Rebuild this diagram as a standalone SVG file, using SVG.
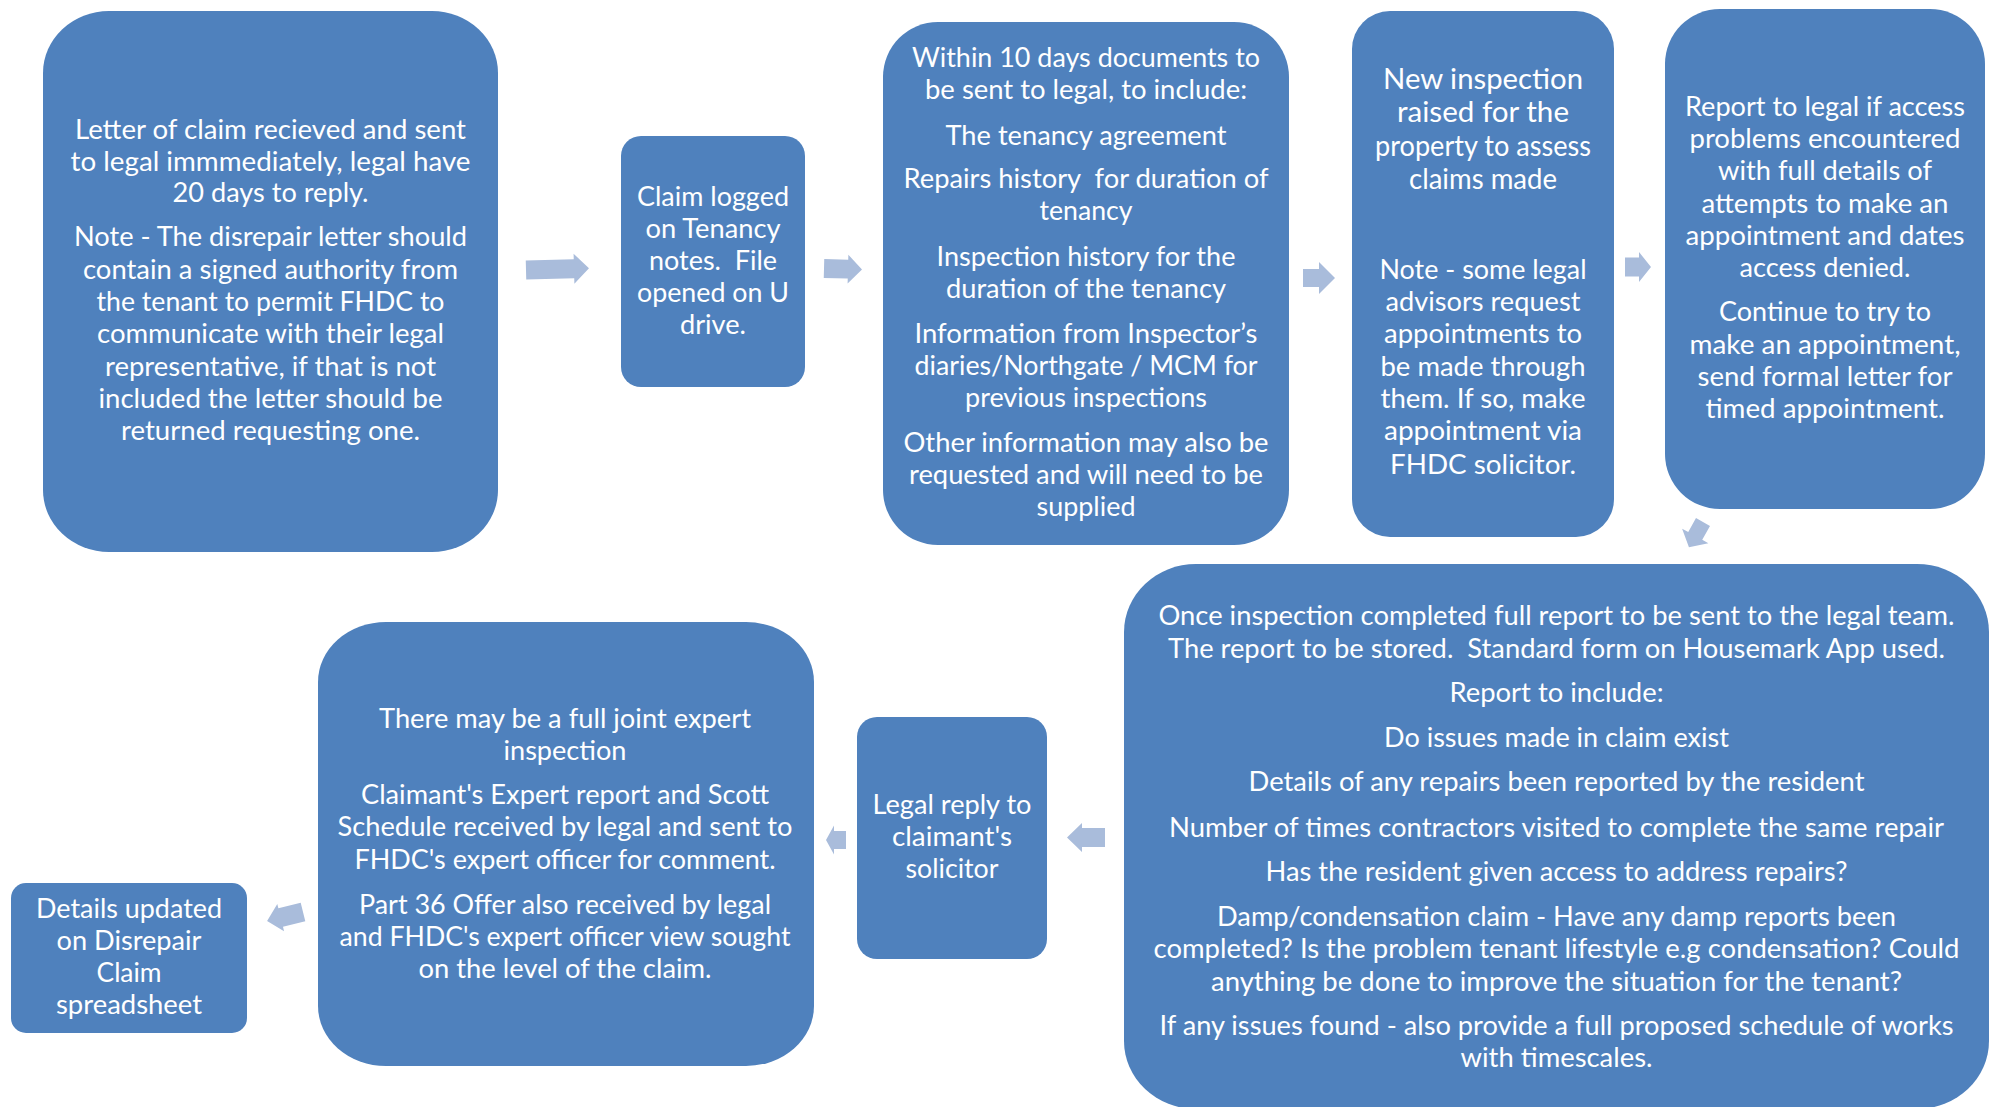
<svg xmlns="http://www.w3.org/2000/svg" width="1995" height="1107" viewBox="0 0 1995 1107">
<style>
.box{fill:#4F81BD;}
.t{font-family:Lato,"Open Sans","Liberation Sans",sans-serif;font-size:27px;fill:#FFFFFF;text-anchor:middle;}
.big{font-size:29.5px;}
.arr{fill:#A9BCDB;}
.pre{white-space:pre;}
</style>
<rect width="1995" height="1107" fill="#FFFFFF"/>
<g id="connectors">
<path class="arr" transform="translate(526,270) rotate(-1.5)" d="M0,-9.5 L48,-9.5 L48,-15 L63,0 L48,15 L48,9.5 L0,9.5 Z"/>
<path class="arr" transform="translate(824,268.5) rotate(1.5)" d="M0,-9.5 L24,-9.5 L24,-14.5 L38,0 L24,14.5 L24,9.5 L0,9.5 Z"/>
<path class="arr" transform="translate(1303,278)" d="M0,-9 L16,-9 L16,-16 L32,0 L16,16 L16,9 L0,9 Z"/>
<path class="arr" transform="translate(1625,267)" d="M0,-9.5 L14,-9.5 L14,-15 L26,0 L14,15 L14,9.5 L0,9.5 Z"/>
<path class="arr" transform="translate(1703,522) rotate(119)" d="M0,-8 L16,-8 L16,-15 L29,0 L16,15 L16,8 L0,8 Z"/>
<path class="arr" transform="translate(1105,837.5) rotate(180)" d="M0,-9.5 L23,-9.5 L23,-14.5 L38,0 L23,14.5 L23,9.5 L0,9.5 Z"/>
<path class="arr" transform="translate(846,840) rotate(180)" d="M0,-9 L12,-9 L12,-14.5 L20,0 L12,14.5 L12,9 L0,9 Z"/>
<path class="arr" transform="translate(303,912) rotate(166)" d="M0,-9.5 L23,-9.5 L23,-14 L37,0 L23,14 L23,9.5 L0,9.5 Z"/>
</g>
<g id="node1">
<rect class="box" x="43" y="11" width="455" height="541" rx="66" ry="62"/>
<text class="t" x="270.5" y="138.5" textLength="391" lengthAdjust="spacingAndGlyphs">Letter of claim recieved and sent</text>
<text class="t" x="270.5" y="170.7" textLength="400" lengthAdjust="spacingAndGlyphs">to legal immmediately, legal have</text>
<text class="t" x="270.5" y="202" textLength="196" lengthAdjust="spacingAndGlyphs">20 days to reply.</text>
<text class="t" x="270.5" y="246.4" textLength="393" lengthAdjust="spacingAndGlyphs">Note - The disrepair letter should</text>
<text class="t" x="270.5" y="278.6" textLength="375" lengthAdjust="spacingAndGlyphs">contain a signed authority from</text>
<text class="t" x="270.5" y="310.7" textLength="348" lengthAdjust="spacingAndGlyphs">the tenant to permit FHDC to</text>
<text class="t" x="270.5" y="342.9" textLength="347" lengthAdjust="spacingAndGlyphs">communicate with their legal</text>
<text class="t" x="270.5" y="375.5" textLength="331" lengthAdjust="spacingAndGlyphs">representative, if that is not</text>
<text class="t" x="270.5" y="407.9" textLength="344" lengthAdjust="spacingAndGlyphs">included the letter should be</text>
<text class="t" x="270.5" y="440" textLength="299" lengthAdjust="spacingAndGlyphs">returned requesting one.</text>
</g>
<g id="node2">
<rect class="box" x="621" y="136" width="184" height="251" rx="20"/>
<text class="t" x="713" y="206.4" textLength="152" lengthAdjust="spacingAndGlyphs">Claim logged</text>
<text class="t" x="713" y="237.8" textLength="135" lengthAdjust="spacingAndGlyphs">on Tenancy</text>
<text class="t pre" x="713" y="270.2" textLength="128" lengthAdjust="spacingAndGlyphs">notes.  File</text>
<text class="t" x="713" y="301.8" textLength="152" lengthAdjust="spacingAndGlyphs">opened on U</text>
<text class="t" x="713" y="333.9" textLength="66" lengthAdjust="spacingAndGlyphs">drive.</text>
</g>
<g id="node3">
<rect class="box" x="883" y="22" width="406" height="523" rx="55"/>
<text class="t" x="1086" y="67.1" textLength="348" lengthAdjust="spacingAndGlyphs">Within 10 days documents to</text>
<text class="t" x="1086" y="99.3" textLength="322" lengthAdjust="spacingAndGlyphs">be sent to legal, to include:</text>
<text class="t" x="1086" y="144.6" textLength="281" lengthAdjust="spacingAndGlyphs">The tenancy agreement</text>
<text class="t pre" x="1086" y="188.2" textLength="365" lengthAdjust="spacingAndGlyphs">Repairs history  for duration of</text>
<text class="t" x="1086" y="219.8" textLength="93" lengthAdjust="spacingAndGlyphs">tenancy</text>
<text class="t" x="1086" y="266" textLength="299" lengthAdjust="spacingAndGlyphs">Inspection history for the</text>
<text class="t" x="1086" y="298.2" textLength="280" lengthAdjust="spacingAndGlyphs">duration of the tenancy</text>
<text class="t" x="1086" y="342.9" textLength="343" lengthAdjust="spacingAndGlyphs">Information from Inspector’s</text>
<text class="t" x="1086" y="375" textLength="343" lengthAdjust="spacingAndGlyphs">diaries/Northgate / MCM for</text>
<text class="t" x="1086" y="406.6" textLength="242" lengthAdjust="spacingAndGlyphs">previous inspections</text>
<text class="t" x="1086" y="451.8" textLength="365" lengthAdjust="spacingAndGlyphs">Other information may also be</text>
<text class="t" x="1086" y="484" textLength="354" lengthAdjust="spacingAndGlyphs">requested and will need to be</text>
<text class="t" x="1086" y="516" textLength="99" lengthAdjust="spacingAndGlyphs">supplied</text>
</g>
<g id="node4">
<rect class="box" x="1352" y="11" width="262" height="526" rx="38"/>
<text class="t big" x="1483" y="88.6" textLength="200" lengthAdjust="spacingAndGlyphs">New inspection</text>
<text class="t big" x="1483" y="122.4" textLength="172" lengthAdjust="spacingAndGlyphs">raised for the</text>
<text class="t big" x="1483" y="156" textLength="216" lengthAdjust="spacingAndGlyphs">property to assess</text>
<text class="t big" x="1483" y="189" textLength="148" lengthAdjust="spacingAndGlyphs">claims made</text>
<text class="t" x="1483" y="278.6" textLength="207" lengthAdjust="spacingAndGlyphs">Note - some legal</text>
<text class="t" x="1483" y="310.9" textLength="195" lengthAdjust="spacingAndGlyphs">advisors request</text>
<text class="t" x="1483" y="343.2" textLength="198" lengthAdjust="spacingAndGlyphs">appointments to</text>
<text class="t" x="1483" y="375.5" textLength="205" lengthAdjust="spacingAndGlyphs">be made through</text>
<text class="t" x="1483" y="407.8" textLength="205" lengthAdjust="spacingAndGlyphs">them. If so, make</text>
<text class="t" x="1483" y="440.1" textLength="198" lengthAdjust="spacingAndGlyphs">appointment via</text>
<text class="t" x="1483" y="474" textLength="186" lengthAdjust="spacingAndGlyphs">FHDC solicitor.</text>
</g>
<g id="node5">
<rect class="box" x="1665" y="9" width="320" height="500" rx="55"/>
<text class="t" x="1825" y="116" textLength="280" lengthAdjust="spacingAndGlyphs">Report to legal if access</text>
<text class="t" x="1825" y="147.8" textLength="271" lengthAdjust="spacingAndGlyphs">problems encountered</text>
<text class="t" x="1825" y="180.2" textLength="214" lengthAdjust="spacingAndGlyphs">with full details of</text>
<text class="t" x="1825" y="212.5" textLength="247" lengthAdjust="spacingAndGlyphs">attempts to make an</text>
<text class="t" x="1825" y="244.6" textLength="279" lengthAdjust="spacingAndGlyphs">appointment and dates</text>
<text class="t" x="1825" y="276.8" textLength="171" lengthAdjust="spacingAndGlyphs">access denied.</text>
<text class="t" x="1825" y="321.4" textLength="212" lengthAdjust="spacingAndGlyphs">Continue to try to</text>
<text class="t" x="1825" y="353.6" textLength="271" lengthAdjust="spacingAndGlyphs">make an appointment,</text>
<text class="t" x="1825" y="385.8" textLength="255" lengthAdjust="spacingAndGlyphs">send formal letter for</text>
<text class="t" x="1825" y="417.9" textLength="239" lengthAdjust="spacingAndGlyphs">timed appointment.</text>
</g>
<g id="node6">
<rect class="box" x="1124" y="564" width="865" height="545" rx="72" ry="68"/>
<text class="t" x="1556.5" y="625" textLength="796" lengthAdjust="spacingAndGlyphs">Once inspection completed full report to be sent to the legal team.</text>
<text class="t pre" x="1556.5" y="657.5" textLength="777" lengthAdjust="spacingAndGlyphs">The report to be stored.  Standard form on Housemark App used.</text>
<text class="t" x="1556.5" y="701.7" textLength="214" lengthAdjust="spacingAndGlyphs">Report to include:</text>
<text class="t" x="1556.5" y="746.9" textLength="345" lengthAdjust="spacingAndGlyphs">Do issues made in claim exist</text>
<text class="t" x="1556.5" y="791.4" textLength="616" lengthAdjust="spacingAndGlyphs">Details of any repairs been reported by the resident</text>
<text class="t" x="1556.5" y="836.6" textLength="775" lengthAdjust="spacingAndGlyphs">Number of times contractors visited to complete the same repair</text>
<text class="t" x="1556.5" y="880.7" textLength="582" lengthAdjust="spacingAndGlyphs">Has the resident given access to address repairs?</text>
<text class="t" x="1556.5" y="925.9" textLength="679" lengthAdjust="spacingAndGlyphs">Damp/condensation claim - Have any damp reports been</text>
<text class="t" x="1556.5" y="958.4" textLength="806" lengthAdjust="spacingAndGlyphs">completed? Is the problem tenant lifestyle e.g condensation? Could</text>
<text class="t" x="1556.5" y="990.6" textLength="691" lengthAdjust="spacingAndGlyphs">anything be done to improve the situation for the tenant?</text>
<text class="t" x="1556.5" y="1034.8" textLength="794" lengthAdjust="spacingAndGlyphs">If any issues found - also provide a full proposed schedule of works</text>
<text class="t" x="1556.5" y="1067" textLength="192" lengthAdjust="spacingAndGlyphs">with timescales.</text>
</g>
<g id="node7">
<rect class="box" x="857" y="717" width="190" height="242" rx="20"/>
<text class="t" x="952" y="813.7" textLength="159" lengthAdjust="spacingAndGlyphs">Legal reply to</text>
<text class="t" x="952" y="846" textLength="120" lengthAdjust="spacingAndGlyphs">claimant's</text>
<text class="t" x="952" y="878.2" textLength="93" lengthAdjust="spacingAndGlyphs">solicitor</text>
</g>
<g id="node8">
<rect class="box" x="318" y="622" width="496" height="444" rx="68" ry="60"/>
<text class="t" x="565" y="727.5" textLength="372" lengthAdjust="spacingAndGlyphs">There may be a full joint expert</text>
<text class="t" x="565" y="759.7" textLength="123" lengthAdjust="spacingAndGlyphs">inspection</text>
<text class="t" x="565" y="804.2" textLength="408" lengthAdjust="spacingAndGlyphs">Claimant's Expert report and Scott</text>
<text class="t" x="565" y="836.4" textLength="455" lengthAdjust="spacingAndGlyphs">Schedule received by legal and sent to</text>
<text class="t" x="565" y="868.6" textLength="421" lengthAdjust="spacingAndGlyphs">FHDC's expert officer for comment.</text>
<text class="t" x="565" y="913.8" textLength="412" lengthAdjust="spacingAndGlyphs">Part 36 Offer also received by legal</text>
<text class="t" x="565" y="946" textLength="451" lengthAdjust="spacingAndGlyphs">and FHDC's expert officer view sought</text>
<text class="t" x="565" y="978" textLength="293" lengthAdjust="spacingAndGlyphs">on the level of the claim.</text>
</g>
<g id="node9">
<rect class="box" x="11" y="883" width="236" height="150" rx="15"/>
<text class="t" x="129" y="917.6" textLength="186" lengthAdjust="spacingAndGlyphs">Details updated</text>
<text class="t" x="129" y="949.6" textLength="145" lengthAdjust="spacingAndGlyphs">on Disrepair</text>
<text class="t" x="129" y="982" textLength="65" lengthAdjust="spacingAndGlyphs">Claim</text>
<text class="t" x="129" y="1013.8" textLength="146" lengthAdjust="spacingAndGlyphs">spreadsheet</text>
</g>
</svg>
